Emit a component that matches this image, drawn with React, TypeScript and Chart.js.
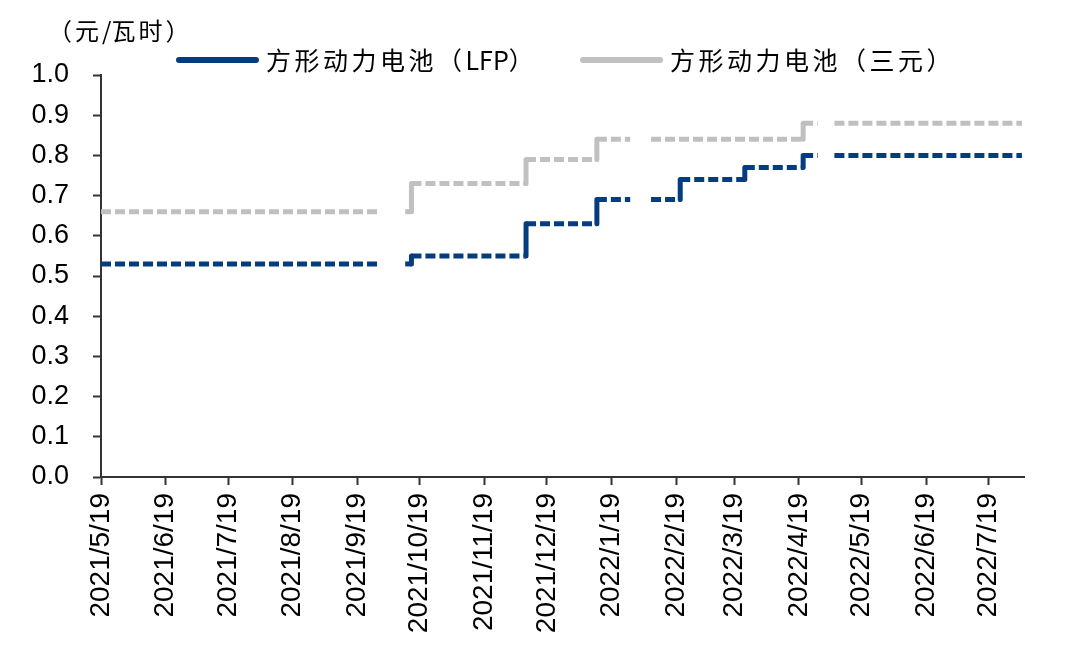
import React, { useEffect, useRef } from "react";
import { Chart, registerables } from "chart.js";

Chart.register(...registerables);

// ---------- data ----------
const axisStart = "2021/5/19";
const axisEnd = "2022/8/5";
const xTickLabels = [
  "2021/5/19", "2021/6/19", "2021/7/19", "2021/8/19", "2021/9/19",
  "2021/10/19", "2021/11/19", "2021/12/19", "2022/1/19", "2022/2/19",
  "2022/3/19", "2022/4/19", "2022/5/19", "2022/6/19", "2022/7/19",
];
const yMin = 0;
const yMax = 1;
const yStep = 0.1;

// observed data runs (gaps = holidays without quotes)
const runStarts = ["2021/5/19", "2021/10/12", "2022/2/7", "2022/5/6"];
const runEnds = ["2021/9/30", "2022/1/28", "2022/4/28", "2022/8/4"];

const lfpName = "方形动力电池（LFP）";
const lfpChangeDates = ["2021/10/15", "2021/12/9", "2022/1/12", "2022/2/21", "2022/3/24", "2022/4/21"];
const lfpLevels = [0.53, 0.55, 0.63, 0.69, 0.74, 0.77, 0.8];

const ncmName = "方形动力电池（三元）";
const ncmChangeDates = ["2021/10/15", "2021/12/9", "2022/1/12", "2022/4/21"];
const ncmLevels = [0.66, 0.73, 0.79, 0.84, 0.88];

const unitLabel = "（元/瓦时）";

// ---------- helpers ----------
function dayNum(s: string): number {
  const [y, m, d] = s.split("/").map(Number);
  const [y0, m0, d0] = axisStart.split("/").map(Number);
  return Math.round((Date.UTC(y, m - 1, d) - Date.UTC(y0, m0 - 1, d0)) / 86400000);
}

function levelAt(day: number, changes: string[], levels: number[]): number {
  let v = levels[0];
  changes.forEach((c, i) => {
    if (dayNum(c) <= day) v = levels[i + 1];
  });
  return v;
}

function buildSeries(changes: string[], levels: number[]) {
  const pts: { x: number; y: number | null }[] = [];
  runStarts.forEach((rs, r) => {
    const s = dayNum(rs);
    const e = dayNum(runEnds[r]);
    if (r > 0) pts.push({ x: (dayNum(runEnds[r - 1]) + s) / 2, y: null });
    pts.push({ x: s, y: levelAt(s, changes, levels) });
    changes.forEach((c, i) => {
      const cd = dayNum(c);
      if (cd > s && cd <= e) {
        pts.push({ x: cd, y: levels[i] });
        pts.push({ x: cd, y: levels[i + 1] });
      }
    });
    pts.push({ x: e, y: levelAt(e, changes, levels) });
  });
  return pts;
}

const BLUE = "#053C7E";
const GRAY = "#C0C0C0";
const DASH = [10, 4];

function drawSpaced(ctx: CanvasRenderingContext2D, text: string, x: number, y: number, cjkGap: number) {
  let cx = x;
  for (const ch of Array.from(text)) {
    ctx.fillText(ch, cx, y);
    const wide = ch.charCodeAt(0) > 0x2e80;
    cx += ctx.measureText(ch).width + (wide ? cjkGap : 0);
  }
}

const overlayPlugin = {
  id: "overlay",
  afterDraw(chart: any) {
    const ctx = chart.ctx as CanvasRenderingContext2D;
    ctx.save();
    ctx.fillStyle = "#000";
    ctx.textBaseline = "middle";
    ctx.textAlign = "left";
    // unit label
    ctx.font = '24px "Noto Sans CJK SC"';
    drawSpaced(ctx, unitLabel, 48, 31, 3);
    // legend
    const items = [
      { x: 176, ds: chart.data.datasets[0] },
      { x: 580, ds: chart.data.datasets[1] },
    ];
    items.forEach((it) => {
      ctx.strokeStyle = it.ds.borderColor;
      ctx.lineWidth = 6;
      ctx.lineCap = "round";
      ctx.setLineDash([]);
      ctx.beginPath();
      ctx.moveTo(it.x + 3, 60);
      ctx.lineTo(it.x + 80, 60);
      ctx.stroke();
      ctx.font = '25px "Noto Sans CJK SC"';
      drawSpaced(ctx, it.ds.label, it.x + 90, 60, 3.5);
    });
    ctx.restore();
  },
};

export default function App() {
  const canvasRef = useRef<HTMLCanvasElement | null>(null);

  useEffect(() => {
    const canvas = canvasRef.current;
    if (!canvas) return;
    const tickDays = xTickLabels.map(dayNum);
    const isVertical = (c: any) => c.p0.parsed.x === c.p1.parsed.x;

    const common = {
      borderWidth: 5,
      borderDash: DASH,
      borderCapStyle: "butt",
      borderJoinStyle: "round",
      pointRadius: 0,
      spanGaps: false,
      segment: {
        borderDash: (c: any) => (isVertical(c) ? [] : DASH),
        borderCapStyle: (c: any) => (isVertical(c) ? "round" : "butt"),
      },
    };

    const chart = new Chart(canvas, {
      type: "line",
      data: {
        datasets: [
          {
            label: lfpName,
            data: buildSeries(lfpChangeDates, lfpLevels),
            borderColor: BLUE,
            backgroundColor: BLUE,
            ...common,
          },
          {
            label: ncmName,
            data: buildSeries(ncmChangeDates, ncmLevels),
            borderColor: GRAY,
            backgroundColor: GRAY,
            ...common,
          },
        ],
      },
      options: {
        responsive: false,
        animation: false,
        devicePixelRatio: 1,
        layout: { padding: { left: 0, right: 56, top: 75, bottom: 0 } },
        plugins: {
          legend: { display: false },
          tooltip: { enabled: false },
        },
        scales: {
          x: {
            type: "linear",
            min: dayNum(axisStart),
            max: dayNum(axisEnd),
            afterBuildTicks: (scale: any) => {
              scale.ticks = tickDays.map((v) => ({ value: v }));
            },
            afterFit: (scale: any) => {
              scale.height = 660 - 477;
            },
            grid: {
              display: true,
              drawOnChartArea: false,
              drawTicks: true,
              tickLength: 8,
              tickWidth: 2,
              tickColor: "#333",
            },
            border: { display: true, color: "#333", width: 2 },
            ticks: {
              autoSkip: false,
              maxRotation: 90,
              minRotation: 90,
              padding: 8,
              color: "#000",
              font: { family: '"Liberation Sans", Arial, sans-serif', size: 28 },
              callback: (value: any) => {
                const i = tickDays.indexOf(Number(value));
                return i >= 0 ? xTickLabels[i] : "";
              },
            },
          },
          y: {
            type: "linear",
            min: yMin,
            max: yMax,
            afterFit: (scale: any) => {
              scale.width = 101;
            },
            grid: {
              display: true,
              drawOnChartArea: false,
              drawTicks: true,
              tickLength: 8,
              tickWidth: 2,
              tickColor: "#333",
            },
            border: { display: true, color: "#333", width: 2 },
            ticks: {
              stepSize: yStep,
              padding: 24,
              color: "#000",
              font: { family: '"Liberation Sans", Arial, sans-serif', size: 27 },
              callback: (value: any) => Number(value).toFixed(1),
            },
          },
        },
      },
      plugins: [overlayPlugin],
    } as any);

    return () => chart.destroy();
  }, []);

  return (
    <div style={{ position: "absolute", left: 0, top: 0, width: 1080, height: 660, background: "#fff" }}>
      <canvas ref={canvasRef} width={1080} height={660} style={{ display: "block" }} />
    </div>
  );
}
